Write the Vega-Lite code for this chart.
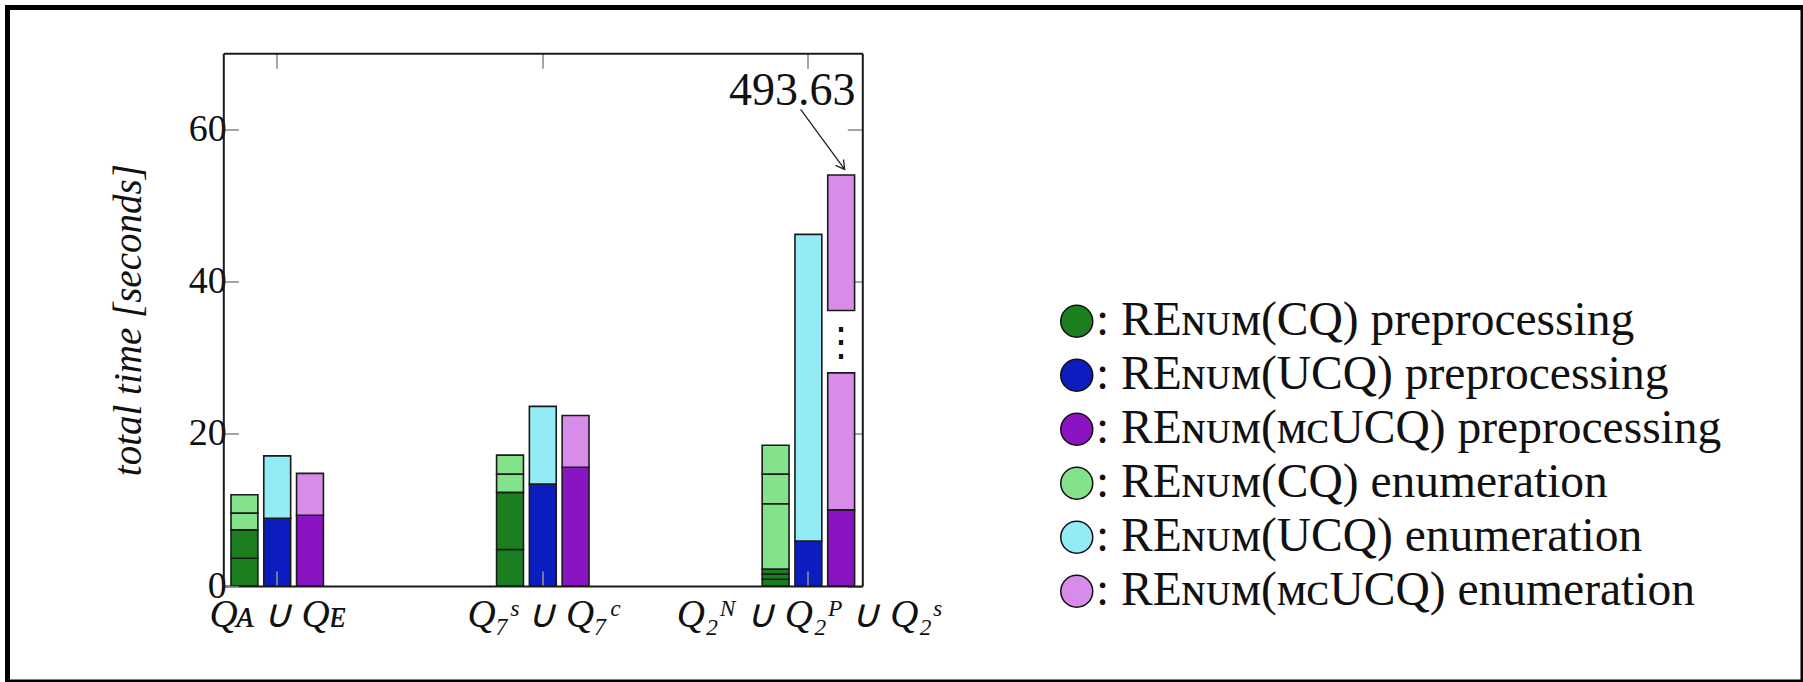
{
  "$schema": "https://vega.github.io/schema/vega-lite/v6.json",
  "width": 1795.5,
  "height": 674.5,
  "autosize": {"type": "none"},
  "padding": {"left": 7.5, "top": 7.5, "right": 0, "bottom": 0},
  "background": "white",
  "config": {
    "view": {"stroke": "#000000", "strokeWidth": 5},
    "font": "Liberation Serif",
    "axis": {
      "grid": false,
      "domainColor": "#1a1a1a",
      "domainWidth": 2,
      "tickColor": "#8f8f8f",
      "tickWidth": 1.6,
      "tickSize": -15,
      "labelFont": "Liberation Serif",
      "titleFont": "Liberation Serif",
      "labelColor": "#111111",
      "titleColor": "#111111"
    }
  },
  "datasets": {
    "segments": [
      {"group": "Qᴀ ∪ Qᴇ", "method": "CQ", "series": "REɴᴜᴍ(CQ) preprocessing", "part": 1, "value": 3.64},
      {"group": "Qᴀ ∪ Qᴇ", "method": "CQ", "series": "REɴᴜᴍ(CQ) preprocessing", "part": 2, "value": 3.73},
      {"group": "Qᴀ ∪ Qᴇ", "method": "CQ", "series": "REɴᴜᴍ(CQ) enumeration", "part": 3, "value": 2.2},
      {"group": "Qᴀ ∪ Qᴇ", "method": "CQ", "series": "REɴᴜᴍ(CQ) enumeration", "part": 4, "value": 2.43},
      {"group": "Qᴀ ∪ Qᴇ", "method": "UCQ", "series": "REɴᴜᴍ(UCQ) preprocessing", "part": 1, "value": 8.9},
      {"group": "Qᴀ ∪ Qᴇ", "method": "UCQ", "series": "REɴᴜᴍ(UCQ) enumeration", "part": 2, "value": 8.2},
      {"group": "Qᴀ ∪ Qᴇ", "method": "mcUCQ", "series": "REɴᴜᴍ(ᴍᴄUCQ) preprocessing", "part": 1, "value": 9.3},
      {"group": "Qᴀ ∪ Qᴇ", "method": "mcUCQ", "series": "REɴᴜᴍ(ᴍᴄUCQ) enumeration", "part": 2, "value": 5.5},
      {"group": "Q₇ˢ ∪ Q₇ᶜ", "method": "CQ", "series": "REɴᴜᴍ(CQ) preprocessing", "part": 1, "value": 4.8},
      {"group": "Q₇ˢ ∪ Q₇ᶜ", "method": "CQ", "series": "REɴᴜᴍ(CQ) preprocessing", "part": 2, "value": 7.5},
      {"group": "Q₇ˢ ∪ Q₇ᶜ", "method": "CQ", "series": "REɴᴜᴍ(CQ) enumeration", "part": 3, "value": 2.4},
      {"group": "Q₇ˢ ∪ Q₇ᶜ", "method": "CQ", "series": "REɴᴜᴍ(CQ) enumeration", "part": 4, "value": 2.5},
      {"group": "Q₇ˢ ∪ Q₇ᶜ", "method": "UCQ", "series": "REɴᴜᴍ(UCQ) preprocessing", "part": 1, "value": 13.4},
      {"group": "Q₇ˢ ∪ Q₇ᶜ", "method": "UCQ", "series": "REɴᴜᴍ(UCQ) enumeration", "part": 2, "value": 10.2},
      {"group": "Q₇ˢ ∪ Q₇ᶜ", "method": "mcUCQ", "series": "REɴᴜᴍ(ᴍᴄUCQ) preprocessing", "part": 1, "value": 15.6},
      {"group": "Q₇ˢ ∪ Q₇ᶜ", "method": "mcUCQ", "series": "REɴᴜᴍ(ᴍᴄUCQ) enumeration", "part": 2, "value": 6.8},
      {"group": "Q₂ᴺ ∪ Q₂ᴾ ∪ Q₂ˢ", "method": "CQ", "series": "REɴᴜᴍ(CQ) preprocessing", "part": 1, "value": 0.88},
      {"group": "Q₂ᴺ ∪ Q₂ᴾ ∪ Q₂ˢ", "method": "CQ", "series": "REɴᴜᴍ(CQ) preprocessing", "part": 2, "value": 0.7},
      {"group": "Q₂ᴺ ∪ Q₂ᴾ ∪ Q₂ˢ", "method": "CQ", "series": "REɴᴜᴍ(CQ) preprocessing", "part": 3, "value": 0.66},
      {"group": "Q₂ᴺ ∪ Q₂ᴾ ∪ Q₂ˢ", "method": "CQ", "series": "REɴᴜᴍ(CQ) enumeration", "part": 4, "value": 8.56},
      {"group": "Q₂ᴺ ∪ Q₂ᴾ ∪ Q₂ˢ", "method": "CQ", "series": "REɴᴜᴍ(CQ) enumeration", "part": 5, "value": 3.9},
      {"group": "Q₂ᴺ ∪ Q₂ᴾ ∪ Q₂ˢ", "method": "CQ", "series": "REɴᴜᴍ(CQ) enumeration", "part": 6, "value": 3.8},
      {"group": "Q₂ᴺ ∪ Q₂ᴾ ∪ Q₂ˢ", "method": "UCQ", "series": "REɴᴜᴍ(UCQ) preprocessing", "part": 1, "value": 5.92},
      {"group": "Q₂ᴺ ∪ Q₂ᴾ ∪ Q₂ˢ", "method": "UCQ", "series": "REɴᴜᴍ(UCQ) enumeration", "part": 2, "value": 40.28},
      {"group": "Q₂ᴺ ∪ Q₂ᴾ ∪ Q₂ˢ", "method": "mcUCQ", "series": "REɴᴜᴍ(ᴍᴄUCQ) preprocessing", "part": 1, "value": 10.0},
      {"group": "Q₂ᴺ ∪ Q₂ᴾ ∪ Q₂ˢ", "method": "mcUCQ", "series": "REɴᴜᴍ(ᴍᴄUCQ) enumeration", "part": 2, "value": 18.0},
      {"group": "Q₂ᴺ ∪ Q₂ᴾ ∪ Q₂ˢ", "method": "mcUCQ", "series": "break", "part": 3, "value": 8.2},
      {"group": "Q₂ᴺ ∪ Q₂ᴾ ∪ Q₂ˢ", "method": "mcUCQ", "series": "REɴᴜᴍ(ᴍᴄUCQ) enumeration", "part": 4, "value": 17.8}
    ],
    "notes": [
      {"group": "Q₂ᴺ ∪ Q₂ᴾ ∪ Q₂ˢ", "method": "mcUCQ", "top": 54.0, "label": "493.63"}
    ]
  },
  "resolve": {"axis": {"x": "independent", "y": "independent"}},
  "layer": [
    {
      "data": {"name": "segments"},
      "transform": [
        {"stack": "value", "groupby": ["group", "method"], "sort": [{"field": "part", "order": "ascending"}], "as": ["v0", "v1"]},
        {"filter": "datum.series !== 'break'"}
      ],
      "mark": {"type": "bar", "stroke": "#1a1a1a", "strokeWidth": 1.6},
      "encoding": {
        "x": {
          "field": "group", "type": "nominal",
          "scale": {"domain": ["Qᴀ ∪ Qᴇ", "Q₇ˢ ∪ Q₇ᶜ", "Q₂ᴺ ∪ Q₂ᴾ ∪ Q₂ˢ"], "range": [215.8, 854.8], "paddingInner": 0.652, "paddingOuter": 0.029},
          "axis": {"orient": "bottom", "offset": -96, "title": null, "labelAngle": 0, "labelFontSize": 39, "labelFontStyle": "italic", "labelPadding": 24, "labelLimit": 0, "zindex": 1}
        },
        "xOffset": {
          "field": "method", "type": "nominal",
          "scale": {"domain": ["CQ", "UCQ", "mcUCQ"], "paddingInner": 0.18, "paddingOuter": 0}
        },
        "y": {
          "field": "v0", "type": "quantitative",
          "scale": {"domain": [0, 70], "range": [578.5, 45.8], "nice": false},
          "axis": {"orient": "left", "offset": -215.8, "values": [0, 20, 40, 60], "title": "total time [seconds]", "titleFontStyle": "italic", "titleFontSize": 39, "titleFontWeight": "normal", "labelFontSize": 38, "labelPadding": 12, "titlePadding": 40, "zindex": 1}
        },
        "y2": {"field": "v1"},
        "color": {
          "field": "series", "type": "nominal",
          "scale": {
            "domain": ["REɴᴜᴍ(CQ) preprocessing", "REɴᴜᴍ(UCQ) preprocessing", "REɴᴜᴍ(ᴍᴄUCQ) preprocessing", "REɴᴜᴍ(CQ) enumeration", "REɴᴜᴍ(UCQ) enumeration", "REɴᴜᴍ(ᴍᴄUCQ) enumeration"],
            "range": ["#1b7f1f", "#0c1dbf", "#8b14c2", "#84e18c", "#92ebf5", "#d68ce8"]
          },
          "legend": {
            "orient": "none", "legendX": 1045.5, "legendY": 290, "title": null,
            "symbolType": "circle", "symbolSize": 1024, "symbolStrokeColor": "#111111", "symbolStrokeWidth": 1.5,
            "labelFont": "Liberation Serif", "labelFontSize": 47.5, "labelLimit": 0, "labelOffset": -4.5,
            "rowPadding": 5, "padding": 0, "labelColor": "#111111",
            "labelExpr": "': ' + datum.label"
          }
        }
      }
    },
    {
      "data": {"name": "segments"},
      "transform": [
        {"stack": "value", "groupby": ["group", "method"], "sort": [{"field": "part", "order": "ascending"}], "as": ["v0", "v1"]},
        {"filter": "datum.series === 'break'"}
      ],
      "mark": {"type": "text", "text": "⋮", "fontSize": 40, "font": "DejaVu Serif", "baseline": "middle", "align": "center", "dy": -30, "color": "#111111"},
      "encoding": {
        "x": {"field": "group", "type": "nominal", "axis": null},
        "xOffset": {"field": "method", "type": "nominal"},
        "y": {"field": "v0", "type": "quantitative", "axis": null}
      }
    },
    {
      "data": {"name": "notes"},
      "mark": {"type": "text", "fontSize": 46, "dx": -49, "dy": -70, "baseline": "alphabetic", "align": "center", "font": "Liberation Serif", "color": "#111111"},
      "encoding": {
        "x": {"field": "group", "type": "nominal", "axis": {"orient": "top", "offset": -45.8, "labels": false, "title": null}},
        "xOffset": {"field": "method", "type": "nominal"},
        "y": {"field": "top", "type": "quantitative", "axis": {"orient": "right", "offset": -940.7, "labels": false, "title": null, "values": [0, 20, 40, 60]}},
        "text": {"field": "label"}
      }
    },
    {
      "data": {"name": "notes"},
      "mark": {"type": "point", "shape": "M -0.579 -0.939 L 0.05 -0.081 M 0.034 -0.223 L 0.05 -0.081 L -0.081 -0.139", "size": 19600, "filled": false, "stroke": "#222222", "strokeWidth": 1.3, "opacity": 1},
      "encoding": {
        "x": {"field": "group", "type": "nominal", "axis": null},
        "xOffset": {"field": "method", "type": "nominal"},
        "y": {"field": "top", "type": "quantitative", "axis": null}
      }
    }
  ]
}
